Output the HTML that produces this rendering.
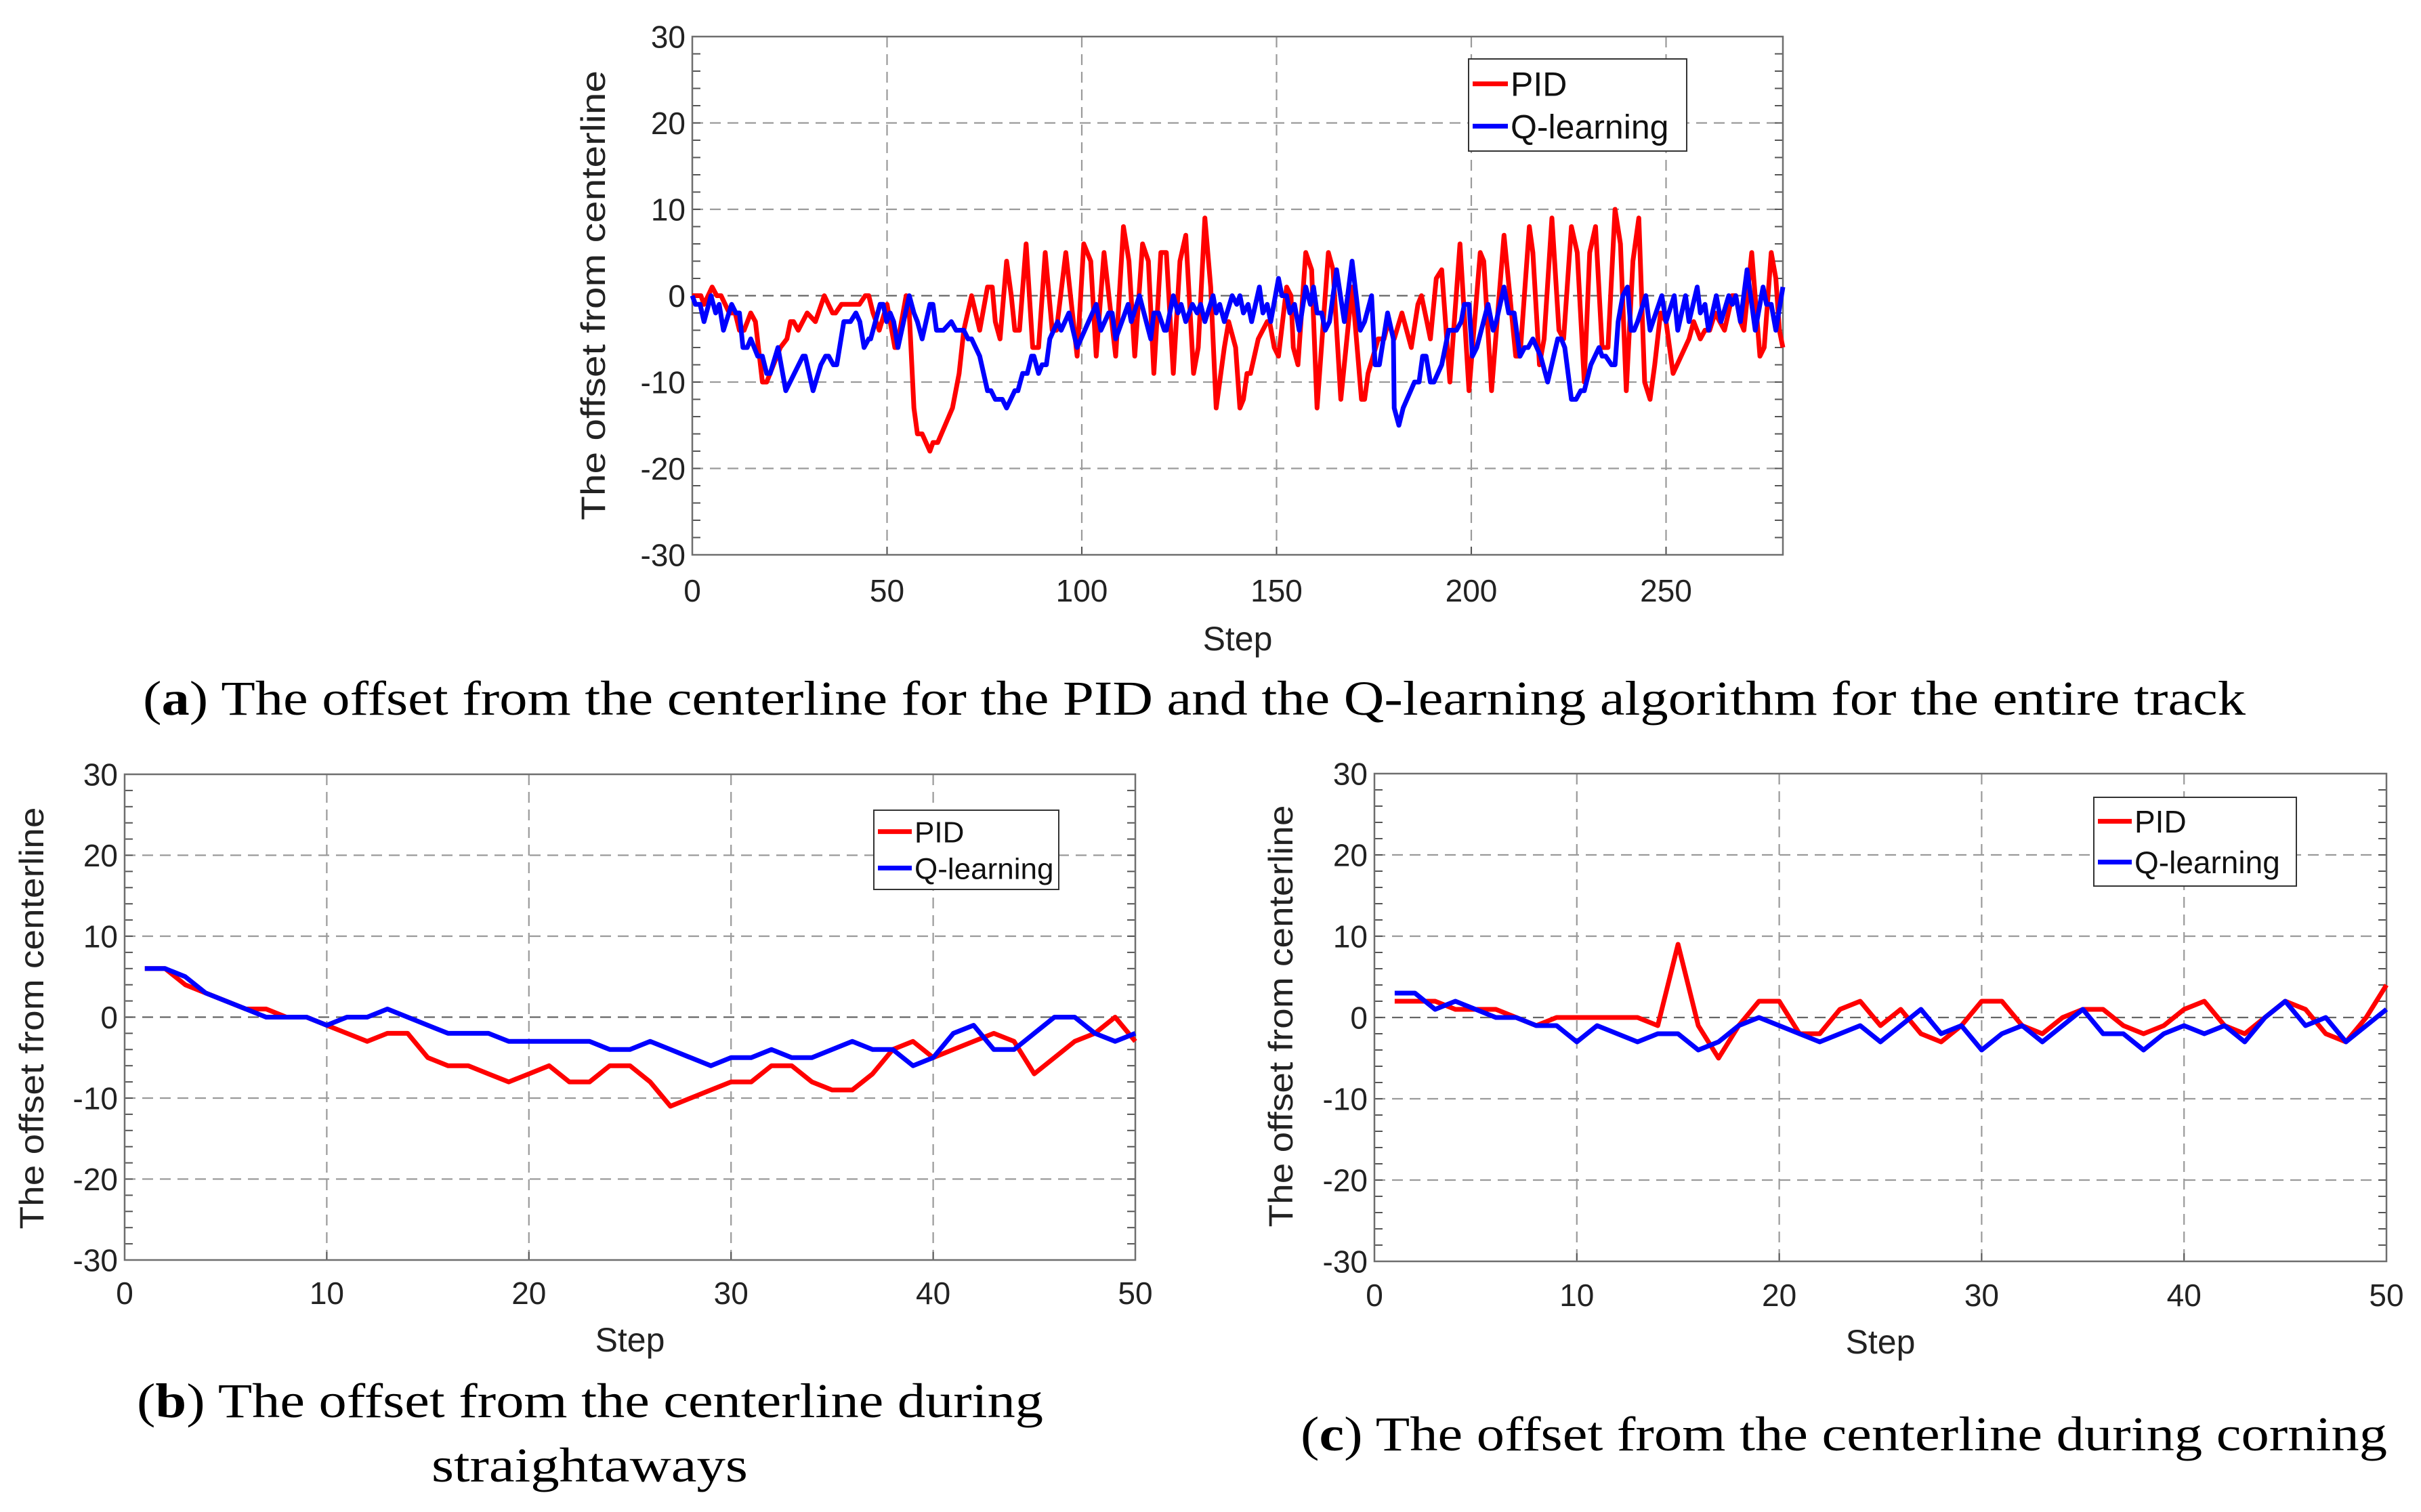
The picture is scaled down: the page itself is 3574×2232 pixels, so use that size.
<!DOCTYPE html>
<html><head><meta charset="utf-8"><style>
html,body{margin:0;padding:0;background:#fff;}
svg{display:block;}
text{font-family:"Liberation Sans",Arial,sans-serif;}
.cap{font-family:"Liberation Serif","Times New Roman",serif;}
</style></head>
<body>
<svg id="fig" width="3574" height="2232" viewBox="0 0 3574 2232" xmlns="http://www.w3.org/2000/svg">
<rect x="0" y="0" width="3574" height="2232" fill="#fff"/>
<g id="chart-a"></g>
<g id="chart-b"></g>
<g id="chart-c"></g>
<text class="cap" x="211" y="1055" font-size="72" textLength="3104" lengthAdjust="spacingAndGlyphs">(<tspan font-weight="bold">a</tspan>) The offset from the centerline for the PID and the Q-learning algorithm for the entire track</text>
<text class="cap" x="202" y="2092" font-size="72" textLength="1338" lengthAdjust="spacingAndGlyphs">(<tspan font-weight="bold">b</tspan>) The offset from the centerline during</text>
<text class="cap" x="637" y="2187" font-size="72" textLength="467" lengthAdjust="spacingAndGlyphs">straightaways</text>
<text class="cap" x="1920" y="2141" font-size="72" textLength="1604" lengthAdjust="spacingAndGlyphs">(<tspan font-weight="bold">c</tspan>) The offset from the centerline during corning</text>
</svg>
<script>
// ---- Chart (a) data: entire track ----
const aXTicks = [0, 50, 100, 150, 200, 250];
const aYTicks = [-30, -20, -10, 0, 10, 20, 30];
const aPidSteps = [0,2.2,3,5.1,6.3,7.4,9.5,11,12.1,13.3,15,16.2,18,19.1,22.6,24.3,25.2,26,27.2,29.5,31.6,33.9,36,36.8,38.3,42.9,44.4,45.3,46.4,48,50,52,52.5,54.9,55.7,56.9,57.8,59,61,61.8,63,66.8,68.5,69.7,71.7,73.8,74.6,75.8,77,77.8,79,80.7,81.9,82.8,84,85.7,87.4,88.9,90.6,92.4,93.5,95.9,98.8,100.5,102.3,103.7,105.7,108.7,110.7,112.1,113.6,115.6,117.1,118.5,120.3,121.7,123.5,125.2,126.7,128.7,129.9,131.6,133.1,134.5,136.6,137.7,139.5,140.6,141.5,142.4,143.3,145.3,147.6,148.2,149.4,150.5,152.6,153.7,154.3,155.5,157.5,159,160.4,163.3,164.5,166.5,169.4,171.8,172.6,173.5,176.1,177.6,178.7,180.2,182.2,184.6,186.3,187.2,188.6,189.5,191,192.4,194.5,197.1,199.4,202.3,203.2,205.2,208.4,211.4,212.5,214.9,215.8,217.5,218.7,220.7,222.5,223.7,225.7,227.2,229,230.4,231.9,233.6,235.1,236.9,238.3,239.8,241.5,243,244.5,245.9,247.1,248.6,250,251.8,255.9,257.1,258.8,260,261.2,262.6,265,267,267.9,269.1,270,272,274.1,275.2,277,278.2,279.1,280];
const aPidVals = [0,0,-1,1,0,0,-2,-2,-4,-4,-2,-3,-10,-10,-6,-5,-3,-3,-4,-2,-3,0,-2,-2,-1,-1,0,0,-2,-4,-1,-6,-6,0,-2,-13,-16,-16,-18,-17,-17,-13,-9,-4,0,-4,-2,1,1,-3,-5,4,0,-4,-4,6,-6,-6,5,-4,-4,5,-7,6,4,-7,5,-7,8,4,-7,6,4,-9,5,5,-9,4,7,-9,-6,9,1,-13,-6,-3,-6,-13,-12,-9,-9,-5,-3,-3,-6,-7,1,0,-6,-8,5,3,-13,5,3,-12,1,-12,-12,-9,-5,-5,-3,-5,-2,-6,-1,0,-3,-5,2,3,-10,6,-11,5,4,-11,7,-7,-7,8,5,-8,-5,9,-4,-5,8,5,-10,5,8,-6,-6,10,6,-11,4,9,-10,-12,-8,-2,-3,-9,-5,-3,-5,-4,-4,-2,-4,0,0,-3,-4,5,-7,-6,5,2,-4,-6];
const aQSteps = [0,0.8,2,3,4.8,6,6.9,8,10.1,11.2,12.1,13,14.1,15,16.8,18,19.1,20,22,24,28.4,29,31,33,34.2,35,36.2,37.1,38.9,40.6,42,43,44.1,45.3,45.8,48.2,49,49.9,50.8,51.7,52.8,55.7,56.9,57.8,59,61,61.8,62.7,64.5,66.5,67.7,69.7,70.8,71.7,73.8,75.8,76.7,77.8,79.6,80.7,82.8,83.6,84.8,86,87.1,87.7,88.9,89.8,90.9,91.8,93.8,94.7,96.7,98.8,103.7,104.9,106.9,107.8,108.7,111.9,112.7,114.8,117.7,118.5,119.7,121.2,121.7,123.5,124.7,125.5,126.7,128.4,129.6,130.5,131.6,133.7,134.5,135.4,136.6,138.6,139.8,140.6,141.5,142.7,143.6,145.6,146.5,147.6,148.5,150.5,151.4,152.6,153.4,154.6,155.8,157.5,158.7,159.5,160.4,161.6,162.5,163.6,165.4,167.4,169.4,171.5,172.6,174.4,175.3,176.4,178.5,180,180.2,181.4,182.5,185.4,186.6,187.5,188.4,189.5,190.4,192.4,194.2,196.2,197.4,198.2,199.4,200.3,201.4,204.3,205.6,206.4,208.4,209.6,211,212.5,213.7,214.6,215.8,217.8,219.6,222.2,223.1,224,225.7,226.9,228.1,229,230.7,232.8,233.6,234.5,236,236.9,237.7,238.9,240.1,241,241.8,242.7,244.8,245.9,248.9,250,252.1,253,255,255.9,258,258.8,260,260.9,262.9,264.1,266.1,267,267.9,269.1,270.8,272.9,274.9,275.8,277,278.2,280];
const aQVals = [0,-1,-1,-3,0,-2,-1,-4,-1,-2,-2,-6,-6,-5,-7,-7,-9,-9,-6,-11,-7,-7,-11,-8,-7,-7,-8,-8,-3,-3,-2,-3,-6,-5,-5,-1,-1,-3,-2,-3,-6,0,-2,-3,-5,-1,-1,-4,-4,-3,-4,-4,-5,-5,-7,-11,-11,-12,-12,-13,-11,-11,-9,-9,-7,-7,-9,-8,-8,-5,-3,-4,-2,-6,-1,-4,-2,-2,-5,-1,-3,0,-5,-2,-2,-4,-4,0,-2,-1,-3,-1,-2,-1,-3,0,-2,-1,-3,0,-1,0,-2,-1,-3,1,-2,-1,-3,2,0,0,-2,-1,-4,1,-1,1,-2,-2,-4,-3,3,-3,4,-4,-3,0,-8,-8,-2,-5,-13,-15,-13,-10,-10,-7,-7,-10,-10,-8,-4,-4,-3,-1,-1,-7,-6,-1,-4,-3,1,-2,-2,-7,-6,-6,-5,-7,-10,-5,-5,-6,-12,-12,-11,-11,-8,-6,-7,-7,-8,-8,-3,0,1,-4,-4,-3,0,-4,0,-3,0,-4,0,-3,1,-2,-1,-4,0,-3,0,-1,0,-3,3,-4,1,-1,-1,-4,1];

// ---- Chart (b) data: straightaways ----
const bXTicks = [0, 10, 20, 30, 40, 50];
const bYTicks = [-30, -20, -10, 0, 10, 20, 30];
const bPid = [6,6,4,3,2,1,1,0,0,-1,-2,-3,-2,-2,-5,-6,-6,-7,-8,-7,-6,-8,-8,-6,-6,-8,-11,-10,-9,-8,-8,-6,-6,-8,-9,-9,-7,-4,-3,-5,-4,-3,-2,-3,-7,-5,-3,-2,0,-3];
const bQ = [6,6,5,3,2,1,0,0,0,-1,0,0,1,0,-1,-2,-2,-2,-3,-3,-3,-3,-3,-4,-4,-3,-4,-5,-6,-5,-5,-4,-5,-5,-4,-3,-4,-4,-6,-5,-2,-1,-4,-4,-2,0,0,-2,-3,-2];

// ---- Chart (c) data: cornering ----
const cXTicks = [0, 10, 20, 30, 40, 50];
const cYTicks = [-30, -20, -10, 0, 10, 20, 30];
const cPid = [2,2,2,1,1,1,0,-1,0,0,0,0,0,-1,9,-1,-5,-1,2,2,-2,-2,1,2,-1,1,-2,-3,-1,2,2,-1,-2,0,1,1,-1,-2,-1,1,2,-1,-2,0,2,1,-2,-3,0,4];
const cQ = [3,3,1,2,1,0,0,-1,-1,-3,-1,-2,-3,-2,-2,-4,-3,-1,0,-1,-2,-3,-2,-1,-3,-1,1,-2,-1,-4,-2,-1,-3,-1,1,-2,-2,-4,-2,-1,-2,-1,-3,0,2,-1,0,-3,-1,1];

const NS = "http://www.w3.org/2000/svg";
function mk(tag, attrs, parent) {
  const e = document.createElementNS(NS, tag);
  for (const k in attrs) e.setAttribute(k, attrs[k]);
  parent.appendChild(e);
  return e;
}
function range1(n) { const r = []; for (let i = 1; i <= n; i++) r.push(i); return r; }

function drawChart(g, cfg) {
  const L = cfg.left, R = cfg.right, T = cfg.top, B = cfg.bottom;
  const xS = v => L + (v - cfg.xmin) / (cfg.xmax - cfg.xmin) * (R - L);
  const yS = v => B - (v - cfg.ymin) / (cfg.ymax - cfg.ymin) * (B - T);
  // grid
  cfg.xTicks.forEach(t => {
    if (t === cfg.xmin || t === cfg.xmax) return;
    const l = mk("line", {x1: xS(t), x2: xS(t), y1: T, y2: B, stroke: "#9a9a9a", "stroke-width": 2.2, "stroke-dasharray": "16,10"}, g);
    
    
  });
  cfg.yTicks.forEach(t => {
    if (t === cfg.ymin || t === cfg.ymax) return;
    const l = mk("line", {x1: L, x2: R, y1: yS(t), y2: yS(t), stroke: t === 0 ? "#666" : "#9a9a9a", "stroke-width": 2.2, "stroke-dasharray": "16,10"}, g);
    
    
  });
  // minor ticks on y
  for (let v = cfg.ymin; v <= cfg.ymax; v += 2) {
    const t1 = mk("line", {x1: L, x2: L + 12, y1: yS(v), y2: yS(v), stroke: "#555", "stroke-width": 2}, g);
    
    
    const t2 = mk("line", {x1: R - 12, x2: R, y1: yS(v), y2: yS(v), stroke: "#555", "stroke-width": 2}, g);
    
    
  }
  cfg.xTicks.forEach(t => {
    const tk = mk("line", {x1: xS(t), x2: xS(t), y1: B, y2: B - 12, stroke: "#555", "stroke-width": 2}, g);
    
    
  });
  // frame
  const fr = mk("rect", {x: L, y: T, width: R - L, height: B - T, fill: "none", stroke: "#6e6e6e", "stroke-width": 2.5}, g);
  
  
  // series
  cfg.series.forEach(s => {
    const pts = s.x.map((xv, i) => xS(xv).toFixed(1) + "," + yS(s.y[i]).toFixed(1)).join(" ");
    const pl = mk("polyline", {points: pts, fill: "none", stroke: s.color, "stroke-width": cfg.lw, "stroke-linejoin": "round"}, g);
    
    
  });
  // tick labels
  cfg.xTicks.forEach(t => {
    const tx = mk("text", {x: xS(t), y: cfg.xLabelY, "font-size": cfg.fs, "text-anchor": "middle", fill: "#222"}, g);
    tx.textContent = String(t);
    
    
  });
  cfg.yTicks.forEach(t => {
    const ty = mk("text", {x: L - 10, y: yS(t) + cfg.fs * 0.36, "font-size": cfg.fs, "text-anchor": "end", fill: "#222"}, g);
    ty.textContent = String(t);
    
    
  });
  // axis titles
  const xt = mk("text", {x: (L + R) / 2, y: cfg.stepY, "font-size": cfg.fs + 4, "text-anchor": "middle", fill: "#222"}, g);
  xt.textContent = "Step";
  
  
  const yt = mk("text", {x: 0, y: 0, "font-size": cfg.fs + 4, "text-anchor": "middle", fill: "#222",
    transform: "translate(" + cfg.yTitleX + "," + cfg.yTitleY + ") rotate(-90)",
    textLength: cfg.yTitleLen, lengthAdjust: "spacingAndGlyphs"}, g);
  yt.textContent = "The offset from centerline";
  
  
  // legend
  const lg = cfg.legend;
  const lgG = mk("g", {}, g);
  
  
  const lb = mk("rect", {x: lg.x, y: lg.y, width: lg.w, height: lg.h, fill: "#fff", stroke: "#333", "stroke-width": 2}, lgG);
  
  
  cfg.series.forEach((s, i) => {
    const yy = lg.y + lg.h * (i === 0 ? 0.27 : 0.73);
    const ln = mk("line", {x1: lg.x + 6, x2: lg.x + 6 + lg.line, y1: yy, y2: yy, stroke: s.color, "stroke-width": cfg.lw}, lgG);
    
    
    const lt = mk("text", {x: lg.x + 10 + lg.line, y: yy + lg.fs * 0.36, "font-size": lg.fs, fill: "#111"}, lgG);
    lt.textContent = s.label;
    
    
  });
}

drawChart(document.getElementById("chart-a"), {
  left: 1022, right: 2632, top: 54, bottom: 819, xmin: 0, xmax: 280, ymin: -30, ymax: 30,
  xTicks: aXTicks, yTicks: aYTicks, lw: 7, fs: 46, xLabelY: 888, stepY: 960,
  yTitleX: 893, yTitleY: 436, yTitleLen: 664,
  legend: {x: 2168, y: 87, w: 322, h: 136, line: 52, fs: 50},
  series: [
    {name: "pid-line", label: "PID", color: "#ff0000", x: aPidSteps, y: aPidVals},
    {name: "q-learning-line", label: "Q-learning", color: "#0000ff", x: aQSteps, y: aQVals}
  ]
});
drawChart(document.getElementById("chart-b"), {
  left: 184, right: 1676, top: 1143, bottom: 1860, xmin: 0, xmax: 50, ymin: -30, ymax: 30,
  xTicks: bXTicks, yTicks: bYTicks, lw: 7, fs: 46, xLabelY: 1925, stepY: 1995,
  yTitleX: 64, yTitleY: 1503, yTitleLen: 623,
  legend: {x: 1290, y: 1196, w: 273, h: 117, line: 50, fs: 44},
  series: [
    {name: "pid-line", label: "PID", color: "#ff0000", x: range1(bPid.length), y: bPid},
    {name: "q-learning-line", label: "Q-learning", color: "#0000ff", x: range1(bQ.length), y: bQ}
  ]
});
drawChart(document.getElementById("chart-c"), {
  left: 2029, right: 3523, top: 1142, bottom: 1862, xmin: 0, xmax: 50, ymin: -30, ymax: 30,
  xTicks: cXTicks, yTicks: cYTicks, lw: 7, fs: 46, xLabelY: 1928, stepY: 1998,
  yTitleX: 1908, yTitleY: 1500, yTitleLen: 623,
  legend: {x: 3091, y: 1177, w: 299, h: 131, line: 50, fs: 46},
  series: [
    {name: "pid-line", label: "PID", color: "#ff0000", x: range1(cPid.length), y: cPid},
    {name: "q-learning-line", label: "Q-learning", color: "#0000ff", x: range1(cQ.length), y: cQ}
  ]
});
</script>
</body></html>
